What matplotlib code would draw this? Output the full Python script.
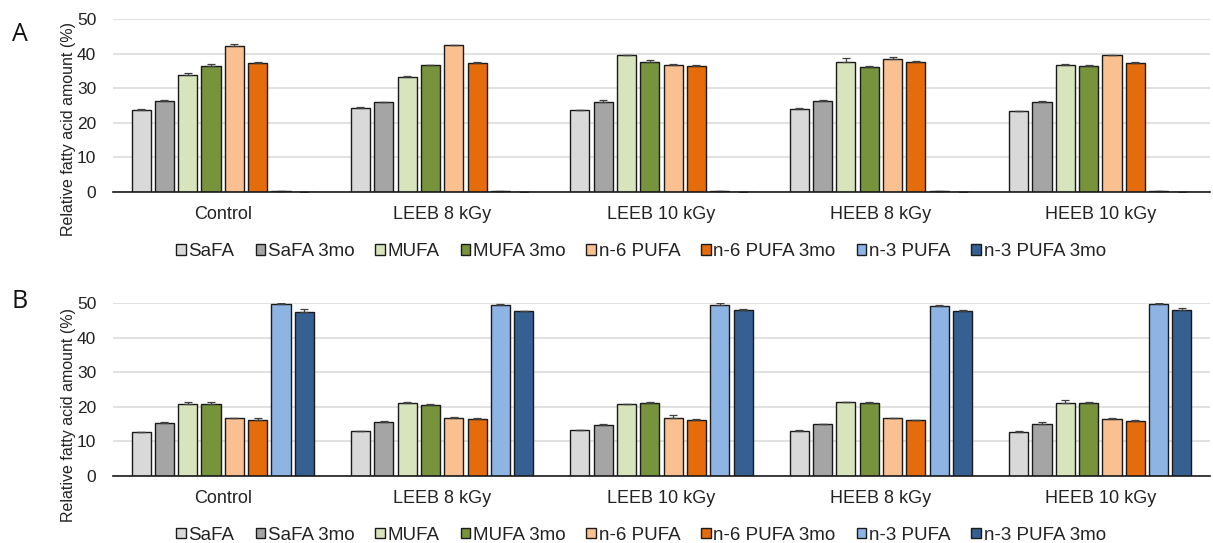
import numpy as np
import matplotlib.pyplot as plt
from matplotlib.patches import Patch

plt.rcParams['font.family'] = ['Liberation Sans', 'DejaVu Sans']

# === Data ===
groups = ['Control', 'LEEB 8 kGy', 'LEEB 10 kGy', 'HEEB 8 kGy', 'HEEB 10 kGy']
series = ['SaFA', 'SaFA 3mo', 'MUFA', 'MUFA 3mo', 'n-6 PUFA', 'n-6 PUFA 3mo', 'n-3 PUFA', 'n-3 PUFA 3mo']
colors = ['#d9d9d9', '#a5a5a5', '#d8e4bc', '#77933c', '#fac090', '#e46c0a', '#8eb4e3', '#376092']

# panel A: rows = series, cols = groups
vals_a = [
    [23.8, 24.3, 23.6, 24.1, 23.4],
    [26.3, 26.0, 25.9, 26.4, 26.0],
    [33.7, 33.3, 39.6, 37.6, 36.8],
    [36.4, 36.6, 37.6, 36.2, 36.5],
    [42.1, 42.4, 36.7, 38.3, 39.6],
    [37.2, 37.2, 36.4, 37.6, 37.4],
    [0.2, 0.2, 0.2, 0.2, 0.2],
    [0.1, 0.1, 0.1, 0.1, 0.1],
]
err_a = [
    [0.1, 0.2, 0.1, 0.2, 0.1],
    [0.3, 0.1, 0.8, 0.3, 0.2],
    [0.8, 0.2, 0.1, 1.0, 0.1],
    [0.5, 0.2, 0.5, 0.2, 0.1],
    [0.6, 0.1, 0.2, 0.8, 0.1],
    [0.4, 0.3, 0.3, 0.2, 0.2],
    [0.0, 0.0, 0.0, 0.0, 0.0],
    [0.0, 0.0, 0.0, 0.0, 0.0],
]

# panel B
vals_b = [
    [12.7, 13.0, 13.2, 13.1, 12.7],
    [15.4, 15.6, 14.7, 15.0, 15.0],
    [20.9, 21.1, 20.7, 21.3, 21.0],
    [20.9, 20.6, 21.2, 21.2, 21.1],
    [16.8, 16.9, 16.9, 16.7, 16.6],
    [16.3, 16.5, 16.2, 16.1, 16.0],
    [49.8, 49.4, 49.4, 49.1, 49.8],
    [47.5, 47.6, 48.0, 47.8, 48.0],
]
err_b = [
    [0.1, 0.1, 0.2, 0.1, 0.4],
    [0.2, 0.2, 0.2, 0.1, 0.5],
    [0.6, 0.2, 0.1, 0.1, 0.9],
    [0.4, 0.2, 0.2, 0.2, 0.3],
    [0.1, 0.1, 0.6, 0.1, 0.1],
    [0.4, 0.2, 0.2, 0.1, 0.1],
    [0.1, 0.2, 0.6, 0.2, 0.1],
    [0.8, 0.1, 0.2, 0.1, 0.5],
]

ylabel = 'Relative fatty acid amount (%)'

# === Figure ===
W, H = 1213, 543
fig = plt.figure(figsize=(W / 100, H / 100), dpi=100)

step = 0.1063
width = 0.087
x = np.arange(len(groups))


def draw_panel(rect, vals, errs, letter, letter_y, label_y, legend_y):
    ax = fig.add_axes(rect)
    for i, (v, e) in enumerate(zip(vals, errs)):
        pos = x + (i - 3.5) * step
        ax.bar(pos, v, width, color=colors[i], edgecolor='#1a1a1a', linewidth=1.0, zorder=3)
        ax.errorbar(pos, v, yerr=[np.zeros(len(e)), e], fmt='none', ecolor='#404040',
                    elinewidth=0.9, capsize=3.2, capthick=0.9, zorder=4)
    ax.set_xlim(-0.5, len(groups) - 0.5)
    ax.set_ylim(0, 50)
    ax.set_yticks(range(0, 51, 10))
    ax.set_xticks(x)
    ax.set_xticklabels(groups, fontsize=13, color='#222222')
    ax.tick_params(axis='x', length=0, pad=10)
    ax.tick_params(axis='y', length=0, pad=12, labelsize=12.5, labelcolor='#222222')
    ax.grid(axis='y', color='#d9d9d9', linewidth=1.1, zorder=0)
    ax.set_axisbelow(True)
    for s in ['top', 'right', 'left']:
        ax.spines[s].set_visible(False)
    ax.spines['bottom'].set_color('#1a1a1a')
    ax.spines['bottom'].set_linewidth(1.2)
    ax.spines['bottom'].set_zorder(5)

    fig.text(68 / W, 1 - label_y / H, ylabel, rotation=90, ha='center', va='center',
             fontsize=11.5, color='#222222')
    fig.text(12 / W, 1 - letter_y / H, letter, ha='left', va='center',
             fontsize=18, family=['Open Sans', 'DejaVu Sans'], color='#111111')

    handles = [Patch(facecolor=c, edgecolor='#1a1a1a', linewidth=1.0) for c in colors]
    fig.legend(handles, series, loc='center', bbox_to_anchor=(641 / W, 1 - legend_y / H),
               ncol=8, frameon=False, fontsize=13.5, handlelength=0.5, handleheight=0.5,
               handletextpad=0.15, columnspacing=1.12, labelcolor='#222222')
    return ax


ax_a = draw_panel([113 / W, 1 - 192 / H, 1097 / W, 173 / H], vals_a, err_a, 'A', 34, 129, 252)
ax_b = draw_panel([113 / W, 1 - 476 / H, 1097 / W, 173 / H], vals_b, err_b, 'B', 302, 415, 535)

fig.savefig('out.png', dpi=100)
